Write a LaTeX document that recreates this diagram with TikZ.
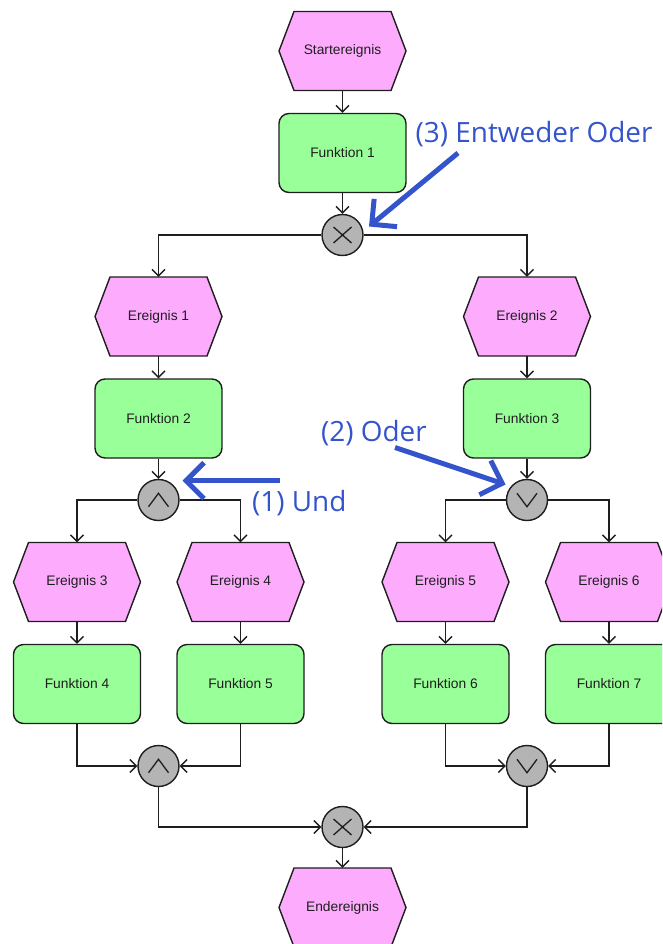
\documentclass[tikz,border=0pt]{standalone}
\usepackage{fontspec}
\setmainfont{Liberation Sans}
\newfontfamily\notefont{Open Sans}
\usetikzlibrary{arrows.meta}

\definecolor{evfill}{RGB}{253,172,253}
\definecolor{fnfill}{RGB}{153,255,153}
\definecolor{gatefill}{RGB}{180,180,180}
\definecolor{inkdark}{RGB}{30,30,30}
\definecolor{noteblue}{RGB}{52,84,204}

\tikzset{
  base/.style={font=\fontsize{13.8}{16}\selectfont, text=inkdark, inner sep=0pt},
  evshape/.style={fill=evfill, draw=inkdark, line width=1.4pt, line join=miter},
  evlabel/.style={base, minimum width=127pt, minimum height=79pt},
  func/.style={base, draw=inkdark, fill=fnfill, line width=1.4pt,
    rounded corners=10pt, minimum width=127pt, minimum height=79pt},
  gate/.style={circle, draw=inkdark, fill=gatefill, line width=1.4pt,
    minimum size=41pt, inner sep=0pt},
  gatesym/.style={draw=inkdark, line width=1.3pt},
  conn/.style={draw=inkdark, line width=1.3pt,
    -{Straight Barb[length=6.5pt, width=13pt]}},
  note/.style={draw=noteblue, line width=5pt,
    -{Straight Barb[length=18pt, width=36pt, line width=5pt]}},
  notetext/.style={text=noteblue, inner sep=0pt,
    font=\notefont\fontsize{27.9}{32}\selectfont},
}

% event: hexagon behind a named label node
\newcommand\eventnode[4]{%
  \filldraw[evshape, shift={(#2,#3)}]
    (-63.5,0) -- (-48.5,-39.5) -- (48.5,-39.5) -- (63.5,0)
    -- (48.5,39.5) -- (-48.5,39.5) -- cycle;
  \node[evlabel] (#1) at (#2,#3) {#4};}

% connectors (gates)
\newcommand\xorgate[3]{%
  \node[gate] (#1) at (#2,#3) {};
  \draw[gatesym, shift={(#2,#3)}] (-9,-8) -- (9,8) (-9,8) -- (9,-8);}
\newcommand\andgate[3]{%
  \node[gate] (#1) at (#2,#3) {};
  \draw[gatesym, shift={(#2,#3)}] (-10,6.7) -- (0,-6.7) -- (10,6.7);}
\newcommand\orgate[3]{%
  \node[gate] (#1) at (#2,#3) {};
  \draw[gatesym, shift={(#2,#3)}] (-10,-6.7) -- (0,6.7) -- (10,-6.7);}

\begin{document}
\begin{tikzpicture}[x=1pt, y=-1pt]
  \useasboundingbox (0,0) rectangle (662,944);
  \clip (0,0) rectangle (662,944);

  % events and functions
  \eventnode{start}{342.5}{51}{Startereignis}
  \node[func] (f1) at (342.5,153) {Funktion 1};
  \xorgate{x1}{342.5}{235}

  \eventnode{e1}{158.5}{316.5}{Ereignis 1}
  \eventnode{e2}{527}{316.5}{Ereignis 2}
  \node[func] (f2) at (158.5,418.5) {Funktion 2};
  \node[func] (f3) at (527,418.5) {Funktion 3};
  \andgate{a1}{158.5}{500}
  \orgate{o1}{527}{500}

  \eventnode{e3}{77}{582}{Ereignis 3}
  \eventnode{e4}{240.5}{582}{Ereignis 4}
  \eventnode{e5}{445.5}{582}{Ereignis 5}
  \eventnode{e6}{609}{582}{Ereignis 6}
  \node[func] (f4) at (77,684) {Funktion 4};
  \node[func] (f5) at (240.5,684) {Funktion 5};
  \node[func] (f6) at (445.5,684) {Funktion 6};
  \node[func] (f7) at (609,684) {Funktion 7};

  \andgate{a2}{158.5}{766}
  \orgate{o2}{527}{766}
  \xorgate{x2}{342.5}{827}
  \eventnode{end}{342.5}{907.5}{Endereignis}

  % control flow
  \draw[conn] (start) -- (f1);
  \draw[conn] (f1) -- (x1);
  \draw[conn] (x1.west) -| (e1.north);
  \draw[conn] (x1.east) -| (e2.north);
  \draw[conn] (e1) -- (f2);
  \draw[conn] (e2) -- (f3);
  \draw[conn] (f2) -- (a1);
  \draw[conn] (f3) -- (o1);
  \draw[conn] (a1.west) -| (e3.north);
  \draw[conn] (a1.east) -| (e4.north);
  \draw[conn] (o1.west) -| (e5.north);
  \draw[conn] (o1.east) -| (e6.north);
  \draw[conn] (e3) -- (f4);
  \draw[conn] (e4) -- (f5);
  \draw[conn] (e5) -- (f6);
  \draw[conn] (e6) -- (f7);
  \draw[conn] (f4.south) |- (a2.west);
  \draw[conn] (f5.south) |- (a2.east);
  \draw[conn] (f6.south) |- (o2.west);
  \draw[conn] (f7.south) |- (o2.east);
  \draw[conn] (a2.south) |- (x2.west);
  \draw[conn] (o2.south) |- (x2.east);
  \draw[conn] (x2) -- (end);

  % annotations
  \node[notetext, anchor=base west] (t3) at (415.5,143) {(3) Entweder Oder};
  \coordinate (n3tail) at (458,153);
  \coordinate (n3tip) at (369,226.5);
  \draw[note] (n3tail) -- (n3tip);

  \node[notetext, anchor=base west] (t2) at (321,441.5) {(2) Oder};
  \coordinate (n2tail) at (395,447.5);
  \coordinate (n2tip) at (505.5,484.5);
  \draw[note] (n2tail) -- (n2tip);

  \node[notetext, anchor=base west] (t1) at (252,511.5) {(1) Und};
  \coordinate (n1tail) at (280,480.7);
  \coordinate (n1tip) at (182.5,480.7);
  \draw[note] (n1tail) -- (n1tip);
\end{tikzpicture}
\end{document}
